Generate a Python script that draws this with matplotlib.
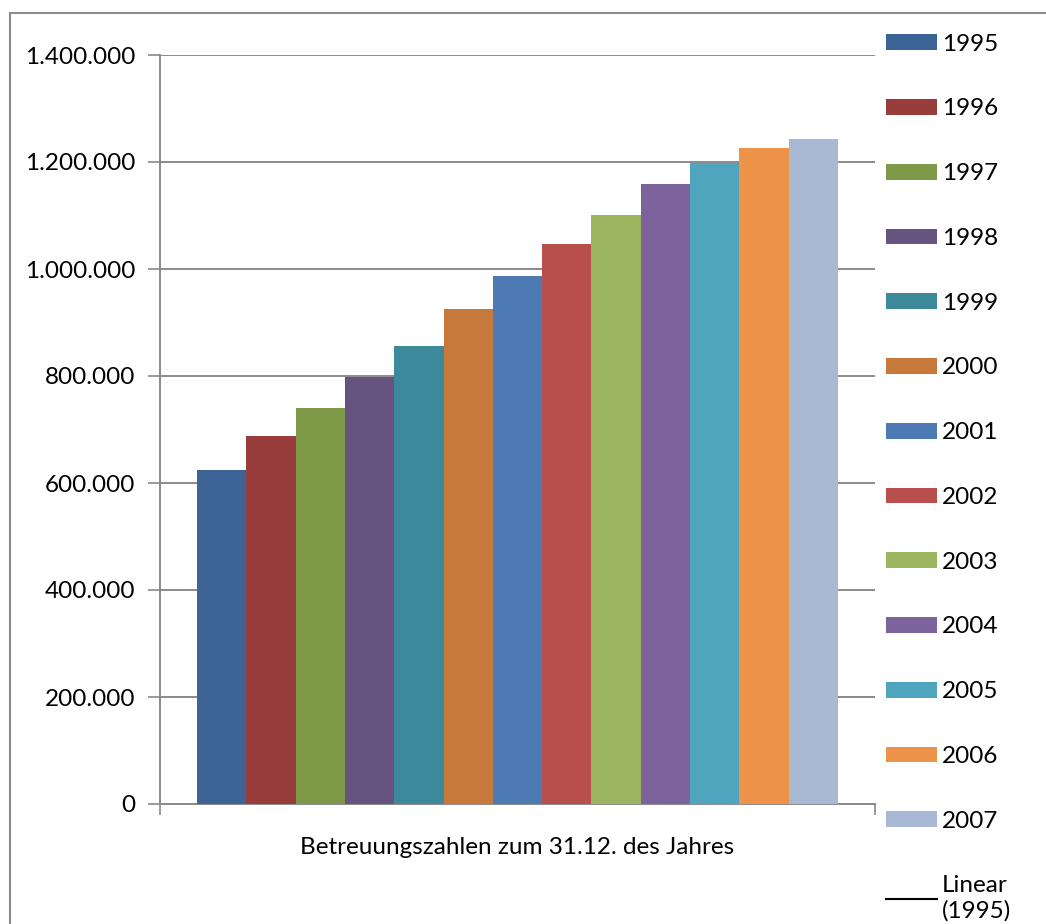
import matplotlib
matplotlib.use("Agg")
import matplotlib.pyplot as plt
from matplotlib.patches import Rectangle, Patch
from matplotlib.lines import Line2D
from matplotlib.ticker import FuncFormatter

plt.rcParams['font.family'] = ['Lato', 'DejaVu Sans']

jahre = ['1995', '1996', '1997', '1998', '1999', '2000', '2001',
         '2002', '2003', '2004', '2005', '2006', '2007']
betreuungen = [624000, 688000, 740000, 799000, 856000, 925000, 987000,
               1047000, 1101000, 1159000, 1199000, 1226000, 1243000]
farben = ['#3D6497', '#983C3C', '#7E9A48', '#67537F', '#3D899C', '#C7793B',
          '#4E7AB3', '#B84F4C', '#9AB55E', '#7C639B', '#4FA5BE', '#EE9449',
          '#A9B8D3']

W, H = 1046, 924
fs = 17.5
fig = plt.figure(figsize=(W / 100, H / 100), dpi=100)
ax = fig.add_axes([160 / W, (H - 804) / H, (875 - 160) / W, (804 - 55) / H])

grau = '#8A8A8A'
for i, (j, v, c) in enumerate(zip(jahre, betreuungen, farben)):
    ax.bar(i, v, width=1.0, color=c, label=j, zorder=3)

ax.set_xlim(-1.25, len(jahre) - 1 + 1.25)
ax.set_ylim(0, 1400000)
ax.set_yticks(range(0, 1400001, 200000))
ax.yaxis.set_major_formatter(
    FuncFormatter(lambda v, p: f"{int(v):,}".replace(',', '.')))
ax.yaxis.grid(True, color=grau, linewidth=1.4, zorder=0)
ax.set_xticks([-1.25, len(jahre) - 1 + 1.25])
ax.set_xticklabels([])
ax.tick_params(axis='y', length=9, width=1.2, color=grau, pad=9, labelsize=fs)
ax.tick_params(axis='x', length=8, width=1.2, color=grau)
for s in ['top', 'right']:
    ax.spines[s].set_visible(False)
for s in ['left', 'bottom']:
    ax.spines[s].set_color(grau)
    ax.spines[s].set_linewidth(1.4)
ax.set_xlabel('Betreuungszahlen zum 31.12. des Jahres', fontsize=fs, labelpad=12)

# Legende mit Trendlinie
handles = [Patch(facecolor=c, edgecolor='none') for c in farben]
handles.append(Line2D([], [], color='black', linewidth=1.5))
labels = jahre + ['Linear\n(1995)']
fig.legend(handles, labels, loc='upper left', bbox_to_anchor=(876 / W, 1 - 24 / H),
           frameon=False, fontsize=fs, handlelength=2.1, handleheight=0.62,
           handletextpad=0.22, labelspacing=1.8, borderaxespad=0)

# Rahmen
fig.add_artist(Rectangle((10 / W, -0.1), 1.2, (H - 13) / H + 0.1,
                         transform=fig.transFigure, fill=False,
                         edgecolor='#8C8C8C', linewidth=1.5))

fig.savefig('out.png', dpi=100)
